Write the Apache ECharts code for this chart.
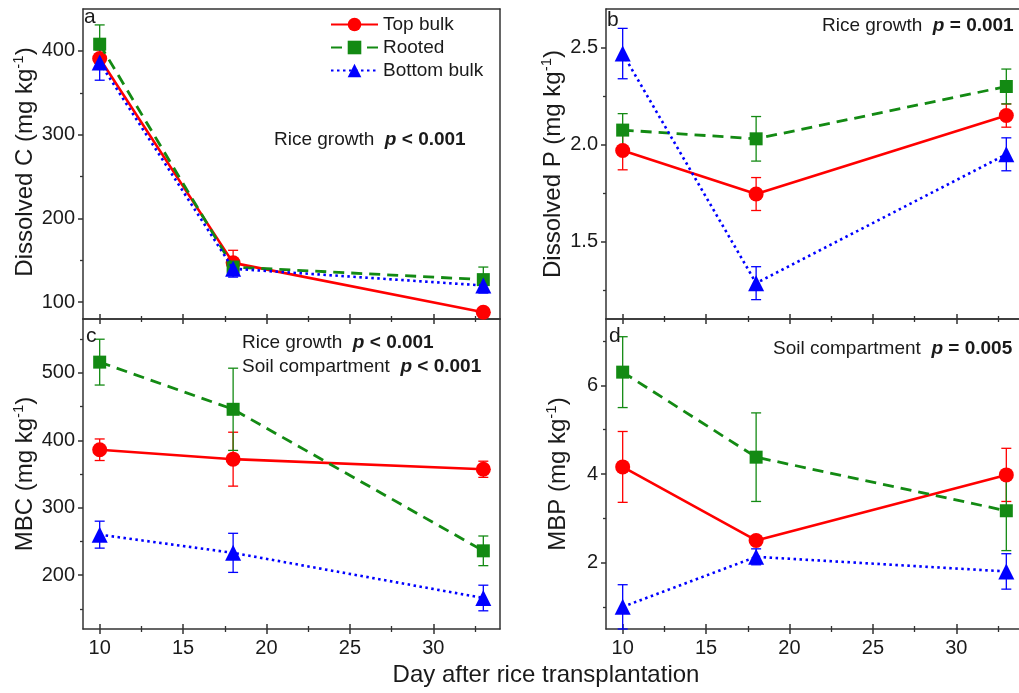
<!DOCTYPE html>
<html>
<head>
<meta charset="utf-8">
<script src="https://cdn.jsdelivr.net/npm/echarts@6/dist/echarts.min.js"></script>
<style>
  html, body { margin: 0; padding: 0; background: #fff; }
  #chart { width: 1019px; height: 693px; }
</style>
</head>
<body>
<div id="chart"></div>
<script>
// Sampling days (x values shared by all four panels)
const days = [10, 18, 33];
const xMajorTicks = [10, 15, 20, 25, 30];
const xMinorTicks = [12.5, 17.5, 22.5, 27.5, 32.5];

// Panel a: dissolved C (mg kg-1), means and standard errors
const dcTop = [391, 147, 88];
const dcTopSe = [10, 15, 3];
const dcRooted = [408, 142, 127];
const dcRootedSe = [23, 5, 15];
const dcBottom = [386, 140, 120];
const dcBottomSe = [21, 10, 9];
const dcMajorTicks = [100, 200, 300, 400];
const dcMinorTicks = [150, 250, 350];

// Panel b: dissolved P (mg kg-1)
const dpTop = [1.97, 1.745, 2.15];
const dpTopSe = [0.1, 0.085, 0.06];
const dpRooted = [2.075, 2.03, 2.30];
const dpRootedSe = [0.085, 0.115, 0.09];
const dpBottom = [2.47, 1.285, 1.95];
const dpBottomSe = [0.13, 0.085, 0.085];
const dpMajorTicks = [1.5, 2.0, 2.5];
const dpMinorTicks = [1.25, 1.75, 2.25];

// Panel c: microbial biomass C (mg kg-1)
const mbcTop = [386, 372, 357];
const mbcTopSe = [16, 40, 12];
const mbcRooted = [516, 446, 236];
const mbcRootedSe = [34, 61, 22];
const mbcBottom = [260, 233, 166];
const mbcBottomSe = [20, 29, 19];
const mbcMajorTicks = [200, 300, 400, 500];
const mbcMinorTicks = [150, 250, 350, 450, 550];

// Panel d: microbial biomass P (mg kg-1)
const mbpTop = [4.16, 2.5, 3.98];
const mbpTopSe = [0.8, 0.1, 0.6];
const mbpRooted = [6.3, 4.38, 3.17];
const mbpRootedSe = [0.8, 1.0, 0.9];
const mbpBottom = [1.0, 2.13, 1.8];
const mbpBottomSe = [0.5, 0.18, 0.4];
const mbpMajorTicks = [2, 4, 6];
const mbpMinorTicks = [1, 3, 5, 7];

const seriesNames = ['Top bulk', 'Rooted', 'Bottom bulk'];

const FONT = '"Liberation Sans", Arial, Helvetica, sans-serif';
const TEXT = '#1a1a1a';
const AXIS = '#333333';
const RED = '#ff0000';
const GREEN = '#138a13';
const BLUE = '#0000ff';

const panels = [
  { grid: { left: 83, top: 9, width: 417, height: 310 }, min: 80, max: 450,
    major: dcMajorTicks, minor: dcMinorTicks, xLabels: false, fmt: v => String(v),
    data: [[dcTop, dcTopSe], [dcRooted, dcRootedSe], [dcBottom, dcBottomSe]] },
  { grid: { left: 606, top: 9, width: 417, height: 310 }, min: 1.1, max: 2.7,
    major: dpMajorTicks, minor: dpMinorTicks, xLabels: false, fmt: v => v.toFixed(1),
    data: [[dpTop, dpTopSe], [dpRooted, dpRootedSe], [dpBottom, dpBottomSe]] },
  { grid: { left: 83, top: 319, width: 417, height: 310 }, min: 120, max: 580,
    major: mbcMajorTicks, minor: mbcMinorTicks, xLabels: true, fmt: v => String(v),
    data: [[mbcTop, mbcTopSe], [mbcRooted, mbcRootedSe], [mbcBottom, mbcBottomSe]] },
  { grid: { left: 606, top: 319, width: 417, height: 310 }, min: 0.5, max: 7.5,
    major: mbpMajorTicks, minor: mbpMinorTicks, xLabels: true, fmt: v => String(v),
    data: [[mbpTop, mbpTopSe], [mbpRooted, mbpRootedSe], [mbpBottom, mbpBottomSe]] }
];

const styles = [
  { color: RED, symbol: 'circle', size: 15, line: { type: 'solid', width: 2.6 } },
  { color: GREEN, symbol: 'rect', size: 13, line: { type: [11, 7], width: 2.8 } },
  { color: BLUE, symbol: 'triangle', size: 16, line: { type: [2.5, 3.5], width: 2.6 } }
];

const X_PER_GRID = 5;
const Y_PER_GRID = 3;

const grids = [];
const xAxes = [];
const yAxes = [];
const series = [];

function xAxisBase(g) {
  return {
    type: 'value', gridIndex: g, min: 9, max: 34, position: 'bottom',
    splitLine: { show: false }, axisLine: { show: false },
    axisTick: { show: false }, axisLabel: { show: false }
  };
}
function yAxisBase(g, p) {
  return {
    type: 'value', gridIndex: g, min: p.min, max: p.max, position: 'left',
    splitLine: { show: false }, axisLine: { show: false },
    axisTick: { show: false }, axisLabel: { show: false }
  };
}

function errorRenderer(color) {
  return function (params, api) {
    const x = api.value(0), y = api.value(1), e = api.value(2);
    const hi = api.coord([x, y + e]);
    const lo = api.coord([x, y - e]);
    const cw = 5;
    const st = { stroke: color, lineWidth: 1.3 };
    return {
      type: 'group',
      children: [
        { type: 'line', shape: { x1: hi[0], y1: hi[1], x2: lo[0], y2: lo[1] }, style: st },
        { type: 'line', shape: { x1: hi[0] - cw, y1: hi[1], x2: hi[0] + cw, y2: hi[1] }, style: st },
        { type: 'line', shape: { x1: lo[0] - cw, y1: lo[1], x2: lo[0] + cw, y2: lo[1] }, style: st }
      ]
    };
  };
}

panels.forEach((p, g) => {
  grids.push(Object.assign({ containLabel: false, outerBoundsMode: 'none' }, p.grid));

  // bottom axis: line, outward major ticks, labels
  const xMain = xAxisBase(g);
  xMain.axisLine = { show: true, onZero: false, lineStyle: { color: AXIS, width: 1.5 } };
  xMain.axisTick = { show: true, customValues: xMajorTicks, length: 5, lineStyle: { color: AXIS, width: 1.5 } };
  xMain.axisLabel = { show: p.xLabels, customValues: xMajorTicks, margin: 9,
    fontSize: 20, fontFamily: FONT, color: TEXT };
  xAxes.push(xMain);
  // inward half of the crossing major ticks
  const xIn = xAxisBase(g);
  xIn.axisTick = { show: true, inside: true, customValues: xMajorTicks, length: 5, lineStyle: { color: AXIS, width: 1.5 } };
  xAxes.push(xIn);
  // minor ticks, both sides
  const xMinOut = xAxisBase(g);
  xMinOut.axisTick = { show: true, customValues: xMinorTicks, length: 3, lineStyle: { color: AXIS, width: 1.3 } };
  xAxes.push(xMinOut);
  const xMinIn = xAxisBase(g);
  xMinIn.axisTick = { show: true, inside: true, customValues: xMinorTicks, length: 3, lineStyle: { color: AXIS, width: 1.3 } };
  xAxes.push(xMinIn);
  // top frame line
  const xTop = xAxisBase(g);
  xTop.position = 'top';
  xTop.axisLine = { show: true, onZero: false, lineStyle: { color: AXIS, width: 1.5 } };
  xAxes.push(xTop);

  // left axis: line, outward major ticks, labels
  const yMain = yAxisBase(g, p);
  yMain.axisLine = { show: true, onZero: false, lineStyle: { color: AXIS, width: 1.5 } };
  yMain.axisTick = { show: true, customValues: p.major, length: 5, lineStyle: { color: AXIS, width: 1.5 } };
  yMain.axisLabel = { show: true, customValues: p.major, margin: 8, formatter: p.fmt,
    fontSize: 20, fontFamily: FONT, color: TEXT };
  yAxes.push(yMain);
  const yMinor = yAxisBase(g, p);
  yMinor.axisTick = { show: true, customValues: p.minor, length: 3, lineStyle: { color: AXIS, width: 1.3 } };
  yAxes.push(yMinor);
  // right frame line
  const yRight = yAxisBase(g, p);
  yRight.position = 'right';
  yRight.axisLine = { show: true, onZero: false, lineStyle: { color: AXIS, width: 1.5 } };
  yAxes.push(yRight);

  p.data.forEach((pair, k) => {
    const [vals, ses] = pair;
    const s = styles[k];
    series.push({
      type: 'custom',
      name: 'se-' + g + '-' + k,
      xAxisIndex: g * X_PER_GRID,
      yAxisIndex: g * Y_PER_GRID,
      z: 2,
      silent: true,
      renderItem: errorRenderer(s.color),
      dimensions: ['day', 'mean', 'se'],
      encode: { x: 0, y: 1 },
      data: days.map((d, i) => [d, vals[i], ses[i]])
    });
    series.push({
      type: 'line',
      name: seriesNames[k],
      xAxisIndex: g * X_PER_GRID,
      yAxisIndex: g * Y_PER_GRID,
      z: 3 + k,
      clip: false,
      symbol: s.symbol,
      symbolSize: s.size,
      showAllSymbol: true,
      itemStyle: { color: s.color, borderWidth: 0 },
      lineStyle: { color: s.color, type: s.line.type, width: s.line.width },
      emphasis: { disabled: true },
      animation: false,
      data: days.map((d, i) => [d, vals[i]])
    });
  });
});

// Text helpers
function richLine(x, y, label, pText) {
  return {
    type: 'text', x: x, y: y, z: 100,
    style: {
      text: '{n|' + label + '  }{p|p}{b|' + pText + '}',
      align: 'left', verticalAlign: 'middle',
      rich: {
        n: { fontSize: 19, fontFamily: FONT, fill: TEXT, color: TEXT },
        p: { fontSize: 19, fontFamily: FONT, fontWeight: 'bold', fontStyle: 'italic', fill: TEXT, color: TEXT },
        b: { fontSize: 19, fontFamily: FONT, fontWeight: 'bold', fill: TEXT, color: TEXT }
      }
    }
  };
}
function yTitle(x, y, label) {
  return {
    type: 'text', x: x, y: y, rotation: Math.PI / 2, z: 100,
    style: {
      text: '{t|' + label + ' (mg kg}{s|-1}{t|)}',
      align: 'center', verticalAlign: 'middle',
      rich: {
        t: { fontSize: 24, fontFamily: FONT, fill: TEXT, color: TEXT, lineHeight: 28 },
        s: { fontSize: 15, fontFamily: FONT, fill: TEXT, color: TEXT, lineHeight: 28, verticalAlign: 'top' }
      }
    }
  };
}
function panelLetter(x, y, ch) {
  return {
    type: 'text', x: x, y: y, z: 100,
    style: { text: ch, font: '21px ' + FONT, fill: TEXT, align: 'left', verticalAlign: 'middle' }
  };
}

const graphics = [
  panelLetter(84, 17, 'a'),
  panelLetter(607, 20, 'b'),
  panelLetter(86, 336, 'c'),
  panelLetter(609, 336, 'd'),
  richLine(274, 140, 'Rice growth', ' < 0.001'),
  richLine(822, 26, 'Rice growth', ' = 0.001'),
  richLine(242, 343, 'Rice growth', ' < 0.001'),
  richLine(242, 367, 'Soil compartment', ' < 0.001'),
  richLine(773, 349, 'Soil compartment', ' = 0.005'),
  yTitle(25, 162, 'Dissolved C'),
  yTitle(553, 164, 'Dissolved P'),
  yTitle(25, 474, 'MBC'),
  yTitle(558, 474, 'MBP'),
  {
    type: 'text', x: 546, y: 675, z: 100,
    style: { text: 'Day after rice transplantation', font: '24px ' + FONT, fill: TEXT,
      align: 'center', verticalAlign: 'middle' }
  }
];

const chart = echarts.init(document.getElementById('chart'), null, { renderer: 'canvas' });
chart.setOption({
  backgroundColor: '#ffffff',
  animation: false,
  grid: grids,
  xAxis: xAxes,
  yAxis: yAxes,
  legend: {
    data: seriesNames,
    orient: 'vertical',
    left: 330,
    top: 15,
    padding: 0,
    itemWidth: 47,
    itemHeight: 17,
    itemGap: 4,
    selectedMode: false,
    textStyle: { fontSize: 19, fontFamily: FONT, color: TEXT, padding: [0, 0, 0, 0] }
  },
  series: series,
  graphic: graphics
});
</script>
</body>
</html>
